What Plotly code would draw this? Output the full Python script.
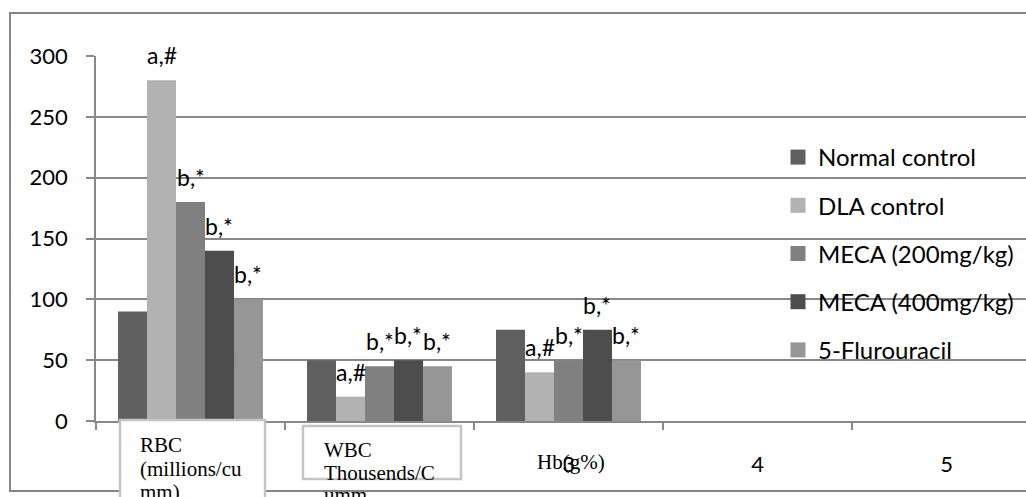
import plotly.graph_objects as go

# ---------------- data ----------------
categories = ["1", "2", "3", "4", "5"]
groups = ["Normal control", "DLA control", "MECA (200mg/kg)", "MECA (400mg/kg)", "5-Flurouracil"]
normal_control = [90, 50, 75]
dla_control = [280, 20, 40]
meca_200 = [180, 45, 50]
meca_400 = [140, 50, 75]
fluorouracil = [100, 45, 50]
labels_normal = ["", "", ""]
labels_dla = ["a,#", "a,#", "a,#"]
labels_meca_200 = ["b,*", "b,*", "b,*"]
labels_meca_400 = ["b,*", "b,*", "b,*"]
labels_fluorouracil = ["b,*", "b,*", "b,*"]
measure_rbc = ["RBC", "(millions/cu", "mm)"]
measure_wbc = ["WBC", "Thousends/C", "umm"]
measure_hb = ["Hb(g%)"]

series_values = [normal_control, dla_control, meca_200, meca_400, fluorouracil]
series_labels = [labels_normal, labels_dla, labels_meca_200, labels_meca_400, labels_fluorouracil]
colors = ["#5f5f5f", "#b2b2b2", "#808080", "#4d4d4d", "#969696"]

# ---------------- layout geometry ----------------
W, H = 1026, 497
ML, MR, MT, MB = 96, 0, 56, 76
PW, PH = W - ML - MR, H - MT - MB
CAT_PX = 189.0
BARGAP = 0.233
BAR_PX = CAT_PX * (1 - BARGAP) / len(groups)
GRAY = "#888888"
SANS = "Lato"
SERIF = "Liberation Serif"


def px_x(px):
    return (px - ML) / PW


def px_y(py):
    return (H - MB - py) / PH


fig = go.Figure()
ncat = len(normal_control)
for name, vals, col in zip(groups, series_values, colors):
    fig.add_trace(go.Bar(x=categories[:ncat], y=vals, name=name, marker_color=col,
                         marker_line_width=0, showlegend=False, hoverinfo="x+y+name"))
# legend entries
for name, col in zip(groups, colors):
    fig.add_trace(go.Scatter(x=[None], y=[None], mode="markers", name=name, legendgroup=name,
                             marker=dict(symbol="square", size=15, color=col, line_width=0)))

annotations = []
for i, labs in enumerate(series_labels):
    for j, lab in enumerate(labs):
        if lab:
            annotations.append(dict(x=j, y=series_values[i][j], xref="x", yref="y",
                                    xshift=(i - (len(groups) - 1) / 2) * BAR_PX, yshift=25,
                                    text=lab, showarrow=False, yanchor="middle",
                                    font=dict(family=SANS, size=23, color="black")))

shapes = [
    # outer chart frame
    dict(type="rect", xref="paper", yref="paper", x0=px_x(10), x1=px_x(1060), y0=px_y(491), y1=px_y(13),
         line=dict(color="#868686", width=2), fillcolor="rgba(0,0,0,0)", layer="below"),
    # category text boxes
    dict(type="rect", xref="paper", yref="paper", x0=px_x(120), x1=px_x(265), y0=px_y(520), y1=px_y(420),
         line=dict(color="#c4c4c4", width=2.5), fillcolor="white", layer="above"),
    dict(type="rect", xref="paper", yref="paper", x0=px_x(303), x1=px_x(461), y0=px_y(479), y1=px_y(426),
         line=dict(color="#c4c4c4", width=2.5), fillcolor="white", layer="above"),
]


def add_lines(lines, x_left, y_first, step, anchor="left"):
    for k, t in enumerate(lines):
        annotations.append(dict(x=px_x(x_left), y=px_y(y_first + k * step), xref="paper", yref="paper",
                                text=t, showarrow=False, xanchor=anchor, yanchor="middle",
                                font=dict(family=SERIF, size=21, color="black")))


add_lines(measure_rbc, 138, 445, 23.5)
add_lines(measure_wbc, 322, 450, 22.5)
add_lines(measure_hb, 571, 462, 23, anchor="center")

fig.update_layout(
    width=W, height=H,
    margin=dict(l=ML, r=MR, t=MT, b=MB, pad=0, autoexpand=False),
    paper_bgcolor="white", plot_bgcolor="white",
    barmode="group", bargap=BARGAP, bargroupgap=0,
    showlegend=True,
    legend=dict(x=px_x(778), y=px_y(135), xanchor="left", yanchor="top",
                bgcolor="rgba(0,0,0,0)", font=dict(family=SANS, size=24, color="black"),
                tracegroupgap=14, itemclick=False, itemdoubleclick=False),
    xaxis=dict(type="category", categoryarray=categories, categoryorder="array",
               range=[-0.5, -0.5 + PW / CAT_PX], tickson="boundaries", automargin=False,
               ticks="outside", ticklen=7, tickwidth=1.5, tickcolor=GRAY,
               showline=True, linecolor=GRAY, linewidth=1.5, showgrid=False,
               ticklabelstandoff=23,
               tickfont=dict(family=SANS, size=22, color="black"), fixedrange=True),
    yaxis=dict(range=[0, 300], dtick=50, showgrid=True, gridcolor=GRAY, gridwidth=1.5,
               showline=True, linecolor=GRAY, linewidth=1.5, zeroline=False, automargin=False,
               ticks="outside", ticklen=8, tickwidth=1.5, tickcolor=GRAY,
               ticklabelstandoff=14,
               tickfont=dict(family=SANS, size=22, color="black"), fixedrange=True),
    shapes=shapes,
    annotations=annotations,
)

fig.write_html("out.html", config={"displayModeBar": False},
               post_script="document.body.style.margin='0';document.body.style.overflow='hidden';")
